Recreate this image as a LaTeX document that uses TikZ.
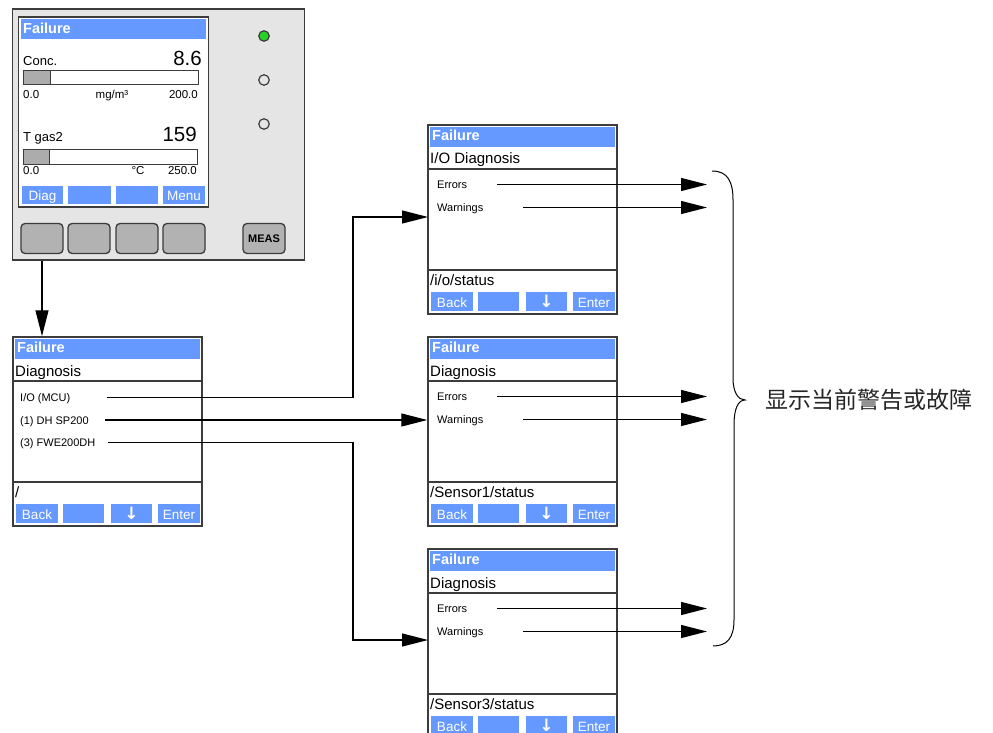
\documentclass[tikz,border=0pt]{standalone}
\usepackage{fontspec}
\setmainfont{Liberation Sans}
\newfontfamily\cjk{Noto Sans CJK SC}
\newfontfamily\arrowfont{DejaVu Sans}
\usetikzlibrary{positioning,arrows.meta,calc}
\definecolor{lcdblue}{RGB}{102,153,255}
\definecolor{casegray}{RGB}{229,229,229}
\definecolor{keygray}{RGB}{178,178,178}
\definecolor{edge}{RGB}{60,60,60}
\definecolor{ledgreen}{RGB}{40,210,40}
\newcommand{\fsz}[1]{\fontsize{#1}{#1}\selectfont}
\tikzset{
  casing/.style={draw=edge, line width=1.8pt, fill=casegray, inner sep=0pt,
                 minimum width=292pt, minimum height=251pt},
  frame/.style ={draw=edge, line width=1.5pt, fill=white, inner sep=0pt,
                 minimum width=189pt, minimum height=189pt},
  ttl/.style   ={anchor=base west, inner sep=0pt, text=white, font=\bfseries\fsz{14.5}},
  line/.style  ={anchor=base west, inner sep=0pt, font=\fsz{15}},
  item/.style  ={anchor=base west, inner sep=0pt, font=\fsz{11},
                 text height=8pt, text depth=0pt},
  keytxt/.style={anchor=base, inner sep=0pt, text=white, font=\fsz{13.5}},
  scl/.style   ={inner sep=0pt, font=\fsz{11.5}},
  big/.style   ={anchor=base east, inner sep=0pt, font=\fsz{20.5}},
  hw/.style    ={draw=edge, line width=1.3pt, fill=keygray, rounded corners=4pt,
                 minimum width=42pt, minimum height=30pt, inner sep=0pt},
  led/.style   ={circle, draw=edge, line width=1.2pt, minimum size=10.5pt, inner sep=0pt},
  gauge/.style ={draw=edge, line width=1pt, fill=white},
  fl/.style    ={-{Triangle[length=26pt,width=13pt]}, line width=1.2pt}
}
% one menu screen: name, top-left corner, second line, path line
\newcommand{\menuscreen}[4]{%
  \begin{scope}[shift={#2}]
    \node[frame] (#1) at (94.5,94.5) {};
    \fill[lcdblue] (2,2) rectangle (187,22);
    \node[ttl] (#1-ttl) at (4,15.5) {Failure};
    \node[line] (#1-hd) at (2,39) {#3};
    \draw[edge, line width=1.2pt] (0,44) -- (189,44) (0,145) -- (189,145);
    \node[line] (#1-path) at (2,160) {#4};
    \foreach \a/\b/\t in {3/45/Back, 50/91/, 98/139/{\arrowfont\bfseries\fsz{17}↓}, 145/187/Enter}{
      \fill[lcdblue] (\a,167) rectangle (\b,186);
      \node[keytxt] at ({(\a+\b)/2},182) {\t};
    }
  \end{scope}}

\begin{document}
\begin{tikzpicture}[x=1pt, y=-1pt]
  \useasboundingbox (0,0) rectangle (993,733);

  % analyser front panel
  \node[casing] (dev) at (158.5,134.5) {};
  \node[frame, minimum width=190pt, minimum height=190pt] (lcd) at (113.5,112) {};
  \fill[lcdblue] (21,19) rectangle (206,39);
  \node[ttl] (lcd-ttl) at (23,33.5) {Failure};

  \node[scl, anchor=base west, font=\fsz{13}] (conc) at (23,65.5) {Conc.};
  \node[big] (concv) at (202,65.5) {8.6};
  \draw[gauge] (23,71) rectangle (198,85);
  \filldraw[fill=gray!65, draw=edge, line width=1pt] (23,71) rectangle (50,85);
  \node[scl, anchor=base west] at (23,99) {0.0};
  \node[scl, anchor=base] at (112,99) {mg/m³};
  \node[scl, anchor=base east] at (198,99) {200.0};

  \node[scl, anchor=base west, font=\fsz{13}] (tgas) at (23,141.5) {T gas2};
  \node[big] (tgasv) at (197,141.5) {159};
  \draw[gauge] (23,150) rectangle (197,164);
  \filldraw[fill=gray!65, draw=edge, line width=1pt] (23,150) rectangle (49,164);
  \node[scl, anchor=base west] at (23,175) {0.0};
  \node[scl, anchor=base] at (138,175) {°C};
  \node[scl, anchor=base east] at (197,175) {250.0};

  \foreach \a/\b/\t in {22/63/Diag, 68/111/, 116/158/, 163/205/Menu}{
    \fill[lcdblue] (\a,186) rectangle (\b,204);
    \node[keytxt] at ({(\a+\b)/2},200) {\t};
  }
  \foreach \cx [count=\i] in {42,89,137,184}
    \node[hw] (k\i) at (\cx,238.5) {};
  \node[hw, minimum width=42pt, font=\bfseries\fsz{11}] (meas) at (264,238.5) {MEAS};

  \node[led, fill=ledgreen] (ledA) at (264,36) {};
  \node[led] (ledB) at (264,80) {};
  \node[led] (ledC) at (264,124) {};

  % menu screens
  \menuscreen{diag}{(13,337)}{Diagnosis}{/}
  \menuscreen{scrA}{(428,125)}{I/O Diagnosis}{/i/o/status}
  \menuscreen{scrB}{(428,337)}{Diagnosis}{/Sensor1/status}
  \menuscreen{scrC}{(428,549)}{Diagnosis}{/Sensor3/status}

  \node[item] (io)  at (20,401.5) {I/O (MCU)};
  \node[item] (dh)  at (20,424)   {(1) DH SP200};
  \node[item] (fwe) at (20,446.5) {(3) FWE200DH};
  \foreach \s/\y in {A/125, B/337, C/549}{
    \node[item] (err\s)  at (437,\y+63.5) {Errors};
    \node[item] (warn\s) at (437,\y+86.5) {Warnings};
  }

  \coordinate (jog) at (353,0);
  \coordinate (rim) at (707,0);
  \coordinate (inA) at (428,217);
  \coordinate (inC) at (428,640);

  \draw[fl] (k1.south |- dev.south) -- (k1.south |- diag.north);
  \draw[fl, shorten <=36pt] (io.east) -| (jog |- inA) -- (inA);
  \draw[fl, shorten <=16pt] (dh.east) -- (dh.east -| scrB.west);
  \draw[fl, shorten <=12pt] (fwe.east) -| (jog |- inC) -- (inC);
  \foreach \s in {A,B,C}{
    \draw[fl, shorten <=30pt] (err\s.east) -- (err\s.east -| rim);
    \draw[fl, shorten <=40pt] (warn\s.east) -- (warn\s.east -| rim);
  }

  % brace and note
  \coordinate (tip) at (745,400);
  \draw[line width=1pt] (712,171) .. controls (728,171) and (733,182) .. (733,200)
        -- (733,378) .. controls (733,392) and (738,400) .. (tip)
        .. controls (738,400) and (734,409) .. (734,425)
        -- (734,620) .. controls (734,638) and (727,646) .. (713,646);
  \node[right=20pt of tip, inner sep=0pt, text=black!85, font=\cjk\fsz{23}] (note)
        {显示当前警告或故障};
\end{tikzpicture}
\end{document}
